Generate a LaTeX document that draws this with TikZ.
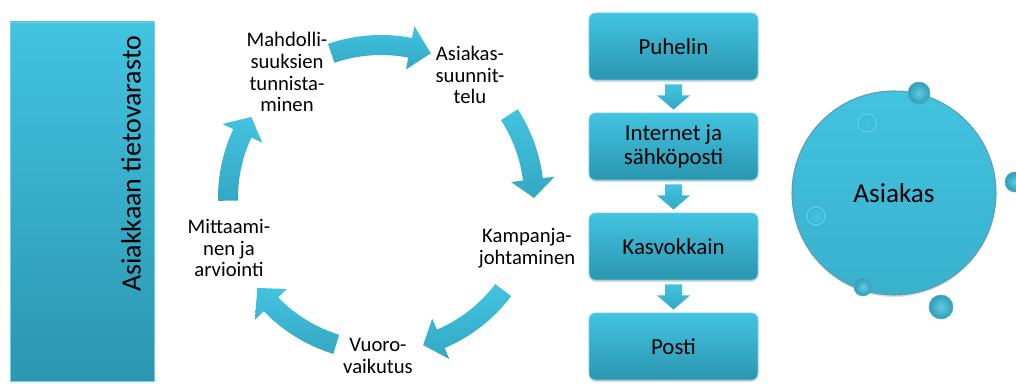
\documentclass[tikz,border=0pt]{standalone}
\usepackage{fontspec}
\setmainfont{Carlito}
\usetikzlibrary{calc,shadows}

\definecolor{tealTop}{RGB}{66,195,224}
\definecolor{tealBot}{RGB}{43,150,176}
\definecolor{tealEdge}{RGB}{36,126,150}
\definecolor{tealLight}{RGB}{128,216,238}

\tikzset{
  panel/.style={top color=tealTop, bottom color=tealBot, draw=tealLight!60!tealTop, line width=0.6pt},
  chbox/.style={panel, rounded corners=5pt, minimum width=126.75pt, minimum height=50.25pt,
    font=\fontsize{17.2}{18.6}\selectfont, align=center, inner sep=0pt,
    drop shadow={opacity=0.28, shadow xshift=0pt, shadow yshift=-1.5pt}},
  cyclabel/.style={align=center, font=\fontsize{15.5}{16.4}\selectfont, inner sep=0pt},
  blockarrow/.style={top color=tealTop, bottom color=tealTop!40!tealBot},
  bead/.style={circle, inner sep=0pt, inner color=tealTop!85!white, outer color=tealBot!85!tealTop,
    draw=tealBot!80, line width=0.4pt},
  flatbead/.style={circle, inner sep=0pt, inner color=tealTop, outer color=tealTop!75!tealBot,
    draw=tealLight!55!tealTop, line width=0.7pt},
}

% curved block arrow on the cycle ring: #1 tail angle, #2 head base angle, #3 tip angle
\newcommand\ringarrow[3]{%
  \shade[blockarrow]
    ($(cc)+(#1:163)$) arc[start angle=#1, end angle=#2, radius=163]
    -- ($(cc)+(#2:175)$) -- ($(cc)+(#3:153)$) -- ($(cc)+(#2:131)$)
    -- ($(cc)+(#2:143)$) arc[start angle=#2, end angle=#1, radius=143] -- cycle;}

% straight down arrow between two stacked boxes
\newcommand\stackarrow[2]{%
  \shade[blockarrow]
    ($(#1.south)+(-8.5,-4)$) -- ($(#1.south)+(8.5,-4)$) -- ($(#1.south)+(8.5,-15)$)
    -- ($(#1.south)+(16.5,-15)$) -- ($(#2.north)+(0,3)$) -- ($(#1.south)+(-16.5,-15)$)
    -- ($(#1.south)+(-8.5,-15)$) -- cycle;}

\begin{document}
\begin{tikzpicture}[x=0.75pt,y=0.75pt]
\useasboundingbox (0,0) rectangle (1016,383);

% customer data store
\node[panel, minimum width=108pt, minimum height=269.25pt, inner sep=0pt] (store) at (82,181.5) {};
\node[rotate=90, font=\fontsize{21}{22}\selectfont, inner sep=0pt] (storetext) at (131,219) {Asiakkaan tietovarasto};

% cycle
\coordinate (cc) at (381,185);
\node[cyclabel] (mahd) at (287,311) {Mahdolli-\\suuksien\\tunnista-\\minen};
\node[cyclabel] (suun) at (470,308) {Asiakas-\\suunnit-\\telu};
\node[cyclabel] (kamp) at (527,135) {Kampanja-\\johtaminen};
\node[cyclabel] (vuor) at (378,27) {Vuoro-\\vaikutus};
\node[cyclabel] (mitt) at (229,135) {Mittaami-\\nen ja\\arviointi};

\ringarrow{109}{79}{71}
\ringarrow{33}{7}{0}
\ringarrow{323}{293}{286}
\ringarrow{253}{224}{216}
\ringarrow{181}{155}{148}

% channels
\node[chbox] (b1) at (673.5,336.5) {Puhelin};
\node[chbox] (b2) at (673.5,236.5) {Internet ja\\sähköposti};
\node[chbox] (b3) at (673.5,136.5) {Kasvokkain};
\node[chbox] (b4) at (673.5,36.5) {Posti};
\stackarrow{b1}{b2}
\stackarrow{b2}{b3}
\stackarrow{b3}{b4}

% customer
\node[circle, minimum size=153pt, inner sep=0pt, top color=tealTop, bottom color=tealTop!60!tealBot,
      draw=tealEdge!75, line width=0.8pt,
      drop shadow={opacity=0.25, shadow xshift=0pt, shadow yshift=-1.5pt},
      font=\fontsize{20.4}{22}\selectfont] (asiakas) at (894,190) {Asiakas};
\node[bead, minimum size=16.5pt] (p1) at (919,290) {};
\node[flatbead, minimum size=13.5pt] (p2) at (867,260) {};
\node[bead, minimum size=15pt] (p3) at (1015,201) {};
\node[flatbead, minimum size=13.5pt] (p4) at (816,167) {};
\node[bead, minimum size=13.5pt] (p5) at (863,96) {};
\node[bead, minimum size=18pt] (p6) at (941,76) {};
\end{tikzpicture}
\end{document}
